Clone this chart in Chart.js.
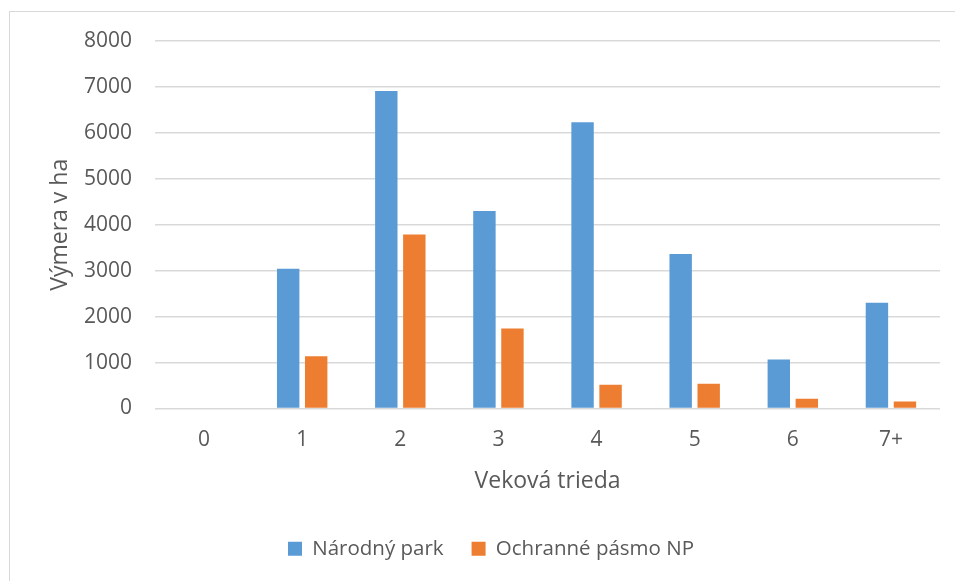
<!DOCTYPE html>
<html>
<head>
<meta charset="utf-8">
<script src="https://cdn.jsdelivr.net/npm/chart.js@4"></script>
<style>
  html, body { margin: 0; padding: 0; background: #fff; }
  #wrap { width: 955px; height: 581px; }
</style>
</head>
<body>
<div id="wrap"><canvas id="chart_vek_trieda" width="955" height="581"></canvas></div>
<script>
var categories = ['0', '1', '2', '3', '4', '5', '6', '7+'];
var narodny_park = [0, 3044, 6913, 4299, 6234, 3365, 1066, 2301];
var ochranne_pasmo = [0, 1140, 3790, 1742, 515, 537, 210, 153];
var y_ticks = [0, 1000, 2000, 3000, 4000, 5000, 6000, 7000, 8000];

var label_np = 'Národný park';
var label_op = 'Ochranné pásmo NP';
var colorText = '#595959';
var colorGrid = '#d9d9d9';
var fontFamily = '"Open Sans", "Noto Sans", sans-serif';

// ram okolo grafu (ako v exceli)
var frame_plugin = {
  id: 'frame',
  beforeDraw: function (chart) {
    var ctx = chart.ctx;
    ctx.save();
    ctx.fillStyle = '#ffffff';
    ctx.fillRect(0, 0, chart.width, chart.height);
    ctx.strokeStyle = colorGrid;
    ctx.lineWidth = 1;
    ctx.strokeRect(9.5, 11.5, 1000, 1000);
    ctx.restore();
  },
  afterLayout: function (chart) {
    // posun legendy doprava
    chart.legend.left += 16;
    chart.legend.right += 16;
  }
};

var ctx_vek = document.getElementById('chart_vek_trieda').getContext('2d');

var data_vek = {
  labels: categories,
  datasets: [{
    label: label_np,
    data: narodny_park,
    backgroundColor: '#5B9BD5',
    borderWidth: 0,
    categoryPercentage: 0.571,
    barPercentage: 0.8
  }, {
    label: label_op,
    data: ochranne_pasmo,
    backgroundColor: '#ED7D31',
    borderWidth: 0,
    categoryPercentage: 0.571,
    barPercentage: 0.8
  }]
};

var options_vek = {
  responsive: false,
  animation: false,
  devicePixelRatio: 1,
  layout: {
    padding: { left: 10, right: 15, top: 41, bottom: 12 }
  },
  plugins: {
    tooltip: { enabled: false },
    legend: {
      display: true,
      position: 'bottom',
      labels: {
        color: colorText,
        boxWidth: 14,
        boxHeight: 14,
        padding: 28,
        font: { family: fontFamily, size: 20.5 }
      }
    }
  },
  scales: {
    x: {
      afterFit: function (axis) {
        axis.height = 102;
      },
      grid: { display: false, drawTicks: false, tickLength: 0 },
      border: { display: false },
      ticks: {
        color: colorText,
        padding: 19,
        maxRotation: 0,
        font: { family: fontFamily, size: 21 }
      },
      title: {
        display: true,
        text: 'Veková trieda',
        color: colorText,
        padding: { top: 10, bottom: 15 },
        font: { family: fontFamily, size: 23 }
      }
    },
    y: {
      min: 0,
      max: 8000,
      afterBuildTicks: function (axis) {
        axis.ticks = y_ticks.map(function (v) { return { value: v }; });
      },
      afterFit: function (axis) {
        axis.width = 145;
      },
      grid: {
        color: colorGrid,
        lineWidth: 1.5,
        drawTicks: false
      },
      border: { display: false },
      ticks: {
        color: colorText,
        padding: 23,
        font: { family: fontFamily, size: 21 },
        callback: function (value) {
          return String(value);
        }
      },
      title: {
        display: true,
        text: 'Výmera v ha',
        color: colorText,
        padding: { top: 37, bottom: 0 },
        font: { family: fontFamily, size: 23 }
      }
    }
  }
};

var chartVekTrieda = new Chart(ctx_vek, {
  type: 'bar',
  data: data_vek,
  options: options_vek,
  plugins: [frame_plugin]
});
</script>
</body>
</html>
